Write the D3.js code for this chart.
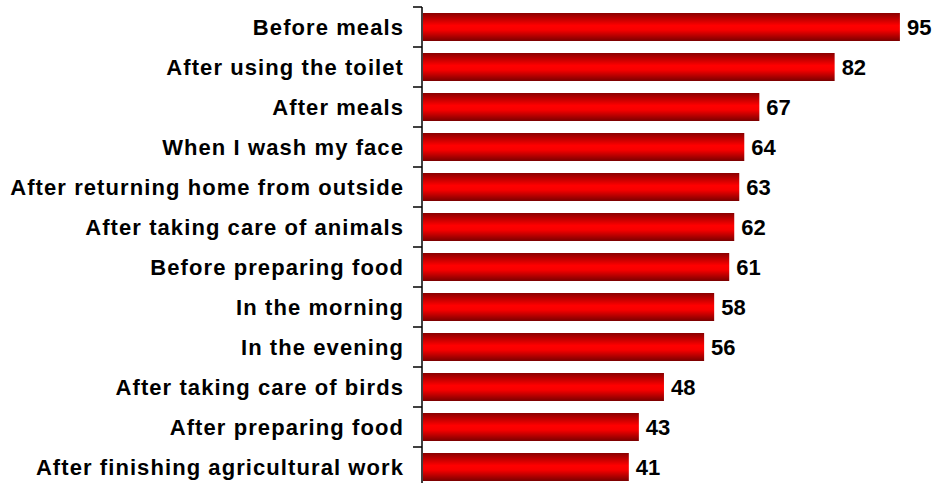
<!DOCTYPE html>
<html>
<head>
<meta charset="utf-8">
<script src="https://cdn.jsdelivr.net/npm/d3@7"></script>
<style>
  html, body { margin: 0; padding: 0; background: #fff; }
  svg { display: block; }
  text { font-family: "Liberation Sans", Arial, sans-serif; font-weight: bold; fill: #000; }
</style>
</head>
<body>
<svg id="chart" width="935" height="483"></svg>
<script>
// Hand-washing occasions and their shares
const categories = [
  "Before meals",
  "After using the toilet",
  "After meals",
  "When I wash my face",
  "After returning home from outside",
  "After taking care of animals",
  "Before preparing food",
  "In the morning",
  "In the evening",
  "After taking care of birds",
  "After preparing food",
  "After finishing agricultural work"
];
const values = [95, 82, 67, 64, 63, 62, 61, 58, 56, 48, 43, 41];

const svg = d3.select("#chart");
const axisX = 422;
const plotTop = 7, bandH = 40;

const y = d3.scaleBand()
  .domain(categories)
  .range([plotTop, plotTop + bandH * categories.length])
  .paddingInner(0.3)
  .paddingOuter(0.15);

const x = d3.scaleLinear().domain([0, 100]).range([axisX + 1, axisX + 503]);

// Vertical shading across each bar
const defs = svg.append("defs");
const grad = defs.append("linearGradient")
  .attr("id", "barShade").attr("x1", 0).attr("y1", 0).attr("x2", 0).attr("y2", 1);
grad.append("stop").attr("offset", "0%").attr("stop-color", "#8a0000");
grad.append("stop").attr("offset", "45%").attr("stop-color", "#ff0000");
grad.append("stop").attr("offset", "60%").attr("stop-color", "#f80000");
grad.append("stop").attr("offset", "100%").attr("stop-color", "#7a0000");

svg.append("g").selectAll("rect")
  .data(categories)
  .join("rect")
  .attr("x", x(0))
  .attr("y", d => y(d))
  .attr("width", (d, i) => x(values[i]) - x(0))
  .attr("height", y.bandwidth())
  .attr("fill", "url(#barShade)");

// Value labels
svg.append("g").selectAll("text")
  .data(categories)
  .join("text")
  .attr("x", (d, i) => x(values[i]) + 7)
  .attr("y", d => y(d) + y.bandwidth() / 2)
  .attr("dy", "0.38em")
  .attr("font-size", 22)
  .text((d, i) => values[i]);

// Category axis with ticks at band boundaries
const axisG = svg.append("g").attr("transform", `translate(${axisX},0)`);
axisG.append("line")
  .attr("x1", 0).attr("x2", 0)
  .attr("y1", plotTop).attr("y2", plotTop + bandH * categories.length)
  .attr("stroke", "#000").attr("stroke-width", 1.5);
const boundaries = d3.range(categories.length + 1).map(i => plotTop + i * bandH);
axisG.selectAll("line.tick")
  .data(boundaries)
  .join("line")
  .attr("class", "tick")
  .attr("x1", -9).attr("x2", 0)
  .attr("y1", d => d).attr("y2", d => d)
  .attr("stroke", "#000").attr("stroke-width", 1.5);

axisG.selectAll("text")
  .data(categories)
  .join("text")
  .attr("x", -18)
  .attr("y", d => y(d) + y.bandwidth() / 2)
  .attr("dy", "0.38em")
  .attr("text-anchor", "end")
  .attr("font-size", 22)
  .attr("letter-spacing", 1.08)
  .text(d => d);
</script>
</body>
</html>
